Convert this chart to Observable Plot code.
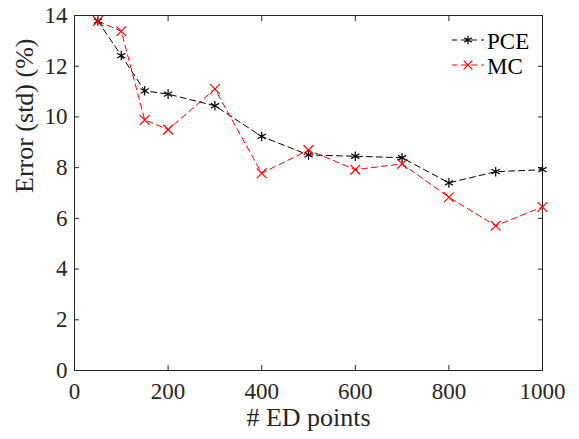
<!DOCTYPE html>
<html><head><meta charset="utf-8">
<script src="https://cdn.jsdelivr.net/npm/d3@7"></script>
<script src="https://cdn.jsdelivr.net/npm/@observablehq/plot@0.6"></script>
<style>
html,body{margin:0;padding:0;background:#fff;font-family:'Liberation Serif',serif;}
#chart{position:relative;width:579px;height:439px;}
#chart svg, #chart svg text{font-family:'Liberation Serif',serif !important;}
#legend{position:absolute;left:0;top:0;pointer-events:none;}
</style></head><body><div id="chart"></div>
<script>
const edPoints = [50, 100, 150, 200, 300, 400, 500, 600, 700, 800, 900, 1000];
const pceError = [13.78, 12.42, 11.03, 10.9, 10.44, 9.23, 8.5, 8.45, 8.39, 7.4, 7.84, 7.92];
const mcError  = [13.78, 13.38, 9.88, 9.5, 11.1, 7.78, 8.69, 7.92, 8.15, 6.83, 5.71, 6.45];
const seriesNames = ["PCE", "MC"];
const seriesColors = ["#000000", "#ff0000"];
const seriesSymbols = ["asterisk", "times"];
const xTicks = [0, 200, 400, 600, 800, 1000];
const yTicks = [0, 2, 4, 6, 8, 10, 12, 14];
const xLabel = "# ED points";
const yLabel = "Error (std) (%)";

const data = [];
edPoints.forEach((x, i) => {
  data.push({x, y: pceError[i], s: "PCE"});
});
edPoints.forEach((x, i) => {
  data.push({x, y: mcError[i], s: "MC"});
});

const font = "'Liberation Serif', serif";
const axisColor = "#262626";

const plot = Plot.plot({
  width: 579, height: 439,
  marginLeft: 74, marginRight: 37, marginTop: 15, marginBottom: 69,
  style: {fontFamily: font, fontSize: "23px", background: "#fff", color: axisColor},
  x: {domain: [0, 1000]},
  y: {domain: [0, 14]},
  color: {domain: seriesNames, range: seriesColors},
  symbol: {domain: seriesNames, range: seriesSymbols},
  marks: [
    Plot.frame({stroke: axisColor, strokeWidth: 1}),
    Plot.axisX({anchor: "bottom", ticks: xTicks, tickSize: -5, tickPadding: 17, tickFormat: d3.format("d"), label: null, fontSize: 23}),
    Plot.axisX({anchor: "top", ticks: xTicks, tickSize: -5, tickFormat: () => "", label: null}),
    Plot.axisY({anchor: "left", ticks: yTicks, tickSize: -5, tickPadding: 12, tickFormat: d3.format("d"), label: null, fontSize: 23}),
    Plot.axisY({anchor: "right", ticks: yTicks, tickSize: -5, tickFormat: () => "", label: null}),
    Plot.text([xLabel], {frameAnchor: "bottom", text: d => d, dy: 55, fontSize: 26, fill: axisColor}),
    Plot.text([yLabel], {frameAnchor: "left", text: d => d, rotate: -90, dx: -50, fontSize: 26, fill: axisColor}),
    Plot.line(data, {x: "x", y: "y", z: "s", stroke: "s", strokeWidth: 1, strokeDasharray: "6,4"}),
    Plot.dot(data, {x: "x", y: "y", symbol: "s", stroke: "s", r: 4.5, strokeWidth: 1.2})
  ]
});

const chart = document.getElementById("chart");
chart.appendChild(plot);
d3.select(plot).attr("font-family", font).selectAll("text").attr("font-family", font).style("font-family", font);

// legend overlay
const legend = d3.select(chart).append("svg")
  .attr("id", "legend").attr("width", 579).attr("height", 439);
const symMap = {asterisk: d3.symbolAsterisk, times: d3.symbolTimes};
seriesNames.forEach((name, i) => {
  const y = 40 + i * 25;
  const g = legend.append("g");
  g.append("line").attr("x1", 452).attr("x2", 484).attr("y1", y).attr("y2", y)
    .attr("stroke", seriesColors[i]).attr("stroke-width", 1).attr("stroke-dasharray", "6,4").attr("stroke-dashoffset", 1);
  g.append("path").attr("d", d3.symbol(symMap[seriesSymbols[i]], 4 * 4 * Math.PI)())
    .attr("transform", `translate(468,${y})`).attr("fill", "none")
    .attr("stroke", seriesColors[i]).attr("stroke-width", 1.2);
  g.append("text").attr("x", 487).attr("y", y + 9.3).text(name)
    .attr("font-family", font).style("font-family", font).attr("font-size", 23).attr("fill", "#000");
});
</script></body></html>
